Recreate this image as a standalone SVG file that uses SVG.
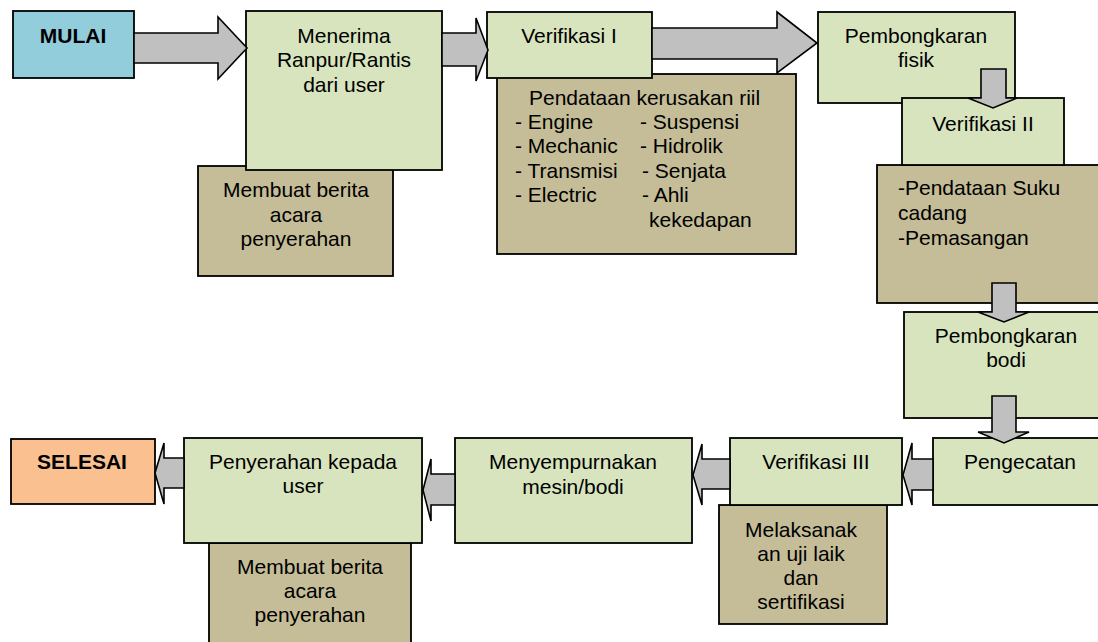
<svg xmlns="http://www.w3.org/2000/svg" width="1098" height="642" viewBox="0 0 1098 642">
  <style>
    .box { stroke: #000; stroke-width: 1.8; }
    .start { fill: #92CDDC; }
    .end { fill: #FAC090; }
    .step { fill: #D7E4BD; }
    .note { fill: #C4BD97; }
    .arrow { fill: #C0C0C0; stroke: #000; stroke-width: 1.6; stroke-linejoin: miter; }
    text { font-family: "Liberation Sans", Arial, sans-serif; font-size: 21px; fill: #000; }
    .c { text-anchor: middle; }
    .b { font-weight: bold; }
  </style>
  <rect width="1098" height="642" fill="#fff"/>

  <!-- nodes -->
  <g id="mulai">
    <rect class="box start" x="13" y="11" width="121" height="67"/>
    <text class="c b" x="73" y="43">MULAI</text>
  </g>

  <g id="berita-acara-awal">
    <rect class="box note" x="198" y="166" width="195" height="110"/>
    <text class="c" x="296" y="197">Membuat berita</text>
    <text class="c" x="296" y="222">acara</text>
    <text class="c" x="296" y="246">penyerahan</text>
  </g>

  <g id="menerima">
    <rect class="box step" x="246" y="11" width="196" height="159"/>
    <text class="c" x="344" y="43">Menerima</text>
    <text class="c" x="344" y="67">Ranpur/Rantis</text>
    <text class="c" x="344" y="92">dari user</text>
  </g>

  <g id="pendataan-kerusakan">
    <rect class="box note" x="497" y="74" width="299" height="180"/>
    <text x="529" y="105">Pendataan kerusakan riil</text>
    <text x="515" y="129">- Engine</text>
    <text x="515" y="153">- Mechanic</text>
    <text x="515" y="178">- Transmisi</text>
    <text x="515" y="202">- Electric</text>
    <text x="640" y="129">- Suspensi</text>
    <text x="640" y="153">- Hidrolik</text>
    <text x="642" y="178">- Senjata</text>
    <text x="642" y="202">- Ahli</text>
    <text x="649" y="227">kekedapan</text>
  </g>

  <g id="verifikasi-1">
    <rect class="box step" x="487" y="12" width="165" height="66"/>
    <text class="c" x="569" y="43">Verifikasi I</text>
  </g>

  <g id="pembongkaran-fisik">
    <rect class="box step" x="818" y="12" width="197" height="91"/>
    <text class="c" x="916" y="43">Pembongkaran</text>
    <text class="c" x="916" y="67">fisik</text>
  </g>

  <g id="pendataan-suku-cadang">
    <rect class="box note" x="877" y="165" width="235" height="138"/>
    <text x="898" y="195">-Pendataan Suku</text>
    <text x="898" y="220">cadang</text>
    <text x="898" y="245">-Pemasangan</text>
  </g>

  <g id="verifikasi-2">
    <rect class="box step" x="902" y="98" width="162" height="67"/>
    <text class="c" x="983" y="131">Verifikasi II</text>
  </g>

  <g id="pembongkaran-bodi">
    <rect class="box step" x="904" y="312" width="208" height="106"/>
    <text class="c" x="1006" y="343">Pembongkaran</text>
    <text class="c" x="1006" y="367">bodi</text>
  </g>

  <g id="pengecatan">
    <rect class="box step" x="933" y="438" width="179" height="67"/>
    <text class="c" x="1020" y="469">Pengecatan</text>
  </g>

  <g id="uji-laik">
    <rect class="box note" x="719" y="505" width="168" height="119"/>
    <text class="c" x="801" y="537">Melaksanak</text>
    <text class="c" x="801" y="561">an uji laik</text>
    <text class="c" x="801" y="585">dan</text>
    <text class="c" x="801" y="609">sertifikasi</text>
  </g>

  <g id="verifikasi-3">
    <rect class="box step" x="730" y="438" width="172" height="67"/>
    <text class="c" x="816" y="469">Verifikasi III</text>
  </g>

  <g id="menyempurnakan">
    <rect class="box step" x="455" y="438" width="237" height="105"/>
    <text class="c" x="573" y="469">Menyempurnakan</text>
    <text class="c" x="573" y="494">mesin/bodi</text>
  </g>

  <g id="berita-acara-akhir">
    <rect class="box note" x="209" y="543" width="202" height="104"/>
    <text class="c" x="310" y="574">Membuat berita</text>
    <text class="c" x="310" y="598">acara</text>
    <text class="c" x="310" y="622">penyerahan</text>
  </g>

  <g id="penyerahan">
    <rect class="box step" x="184" y="438" width="238" height="105"/>
    <text class="c" x="303" y="469">Penyerahan kepada</text>
    <text class="c" x="303" y="493">user</text>
  </g>

  <g id="selesai">
    <rect class="box end" x="11" y="439" width="144" height="65"/>
    <text class="c b" x="82" y="469">SELESAI</text>
  </g>

  <!-- connectors: block arrows -->
  <g id="connectors">
    <polygon class="arrow" points="134,33 218,33 218,17 247,48 218,79 218,63 134,63"/>
    <polygon class="arrow" points="442,33 476,33 476,18 488,50 476,81 476,66 442,66"/>
    <polygon class="arrow" points="652,28 777,28 777,12 817,43 777,73 777,59 652,59"/>
    <polygon class="arrow" points="981,69 1006,69 1006,98 1017,98 993,108 968,98 981,98"/>
    <polygon class="arrow" points="992,283 1016,283 1016,312 1029,312 1004,322 978,312 992,312"/>
    <polygon class="arrow" points="992,396 1016,396 1016,432 1029,432 1004,443 978,432 992,432"/>
    <polygon class="arrow" points="933,459 912,459 912,443 903,475 912,505 912,490 933,490"/>
    <polygon class="arrow" points="730,459 702,459 702,444 693,475 702,505 702,489 730,489"/>
    <polygon class="arrow" points="455,474 431,474 431,459 423,490 431,521 431,505 455,505"/>
    <polygon class="arrow" points="184,458 164,458 164,443 155,473 164,504 164,488 184,488"/>
  </g>
</svg>
